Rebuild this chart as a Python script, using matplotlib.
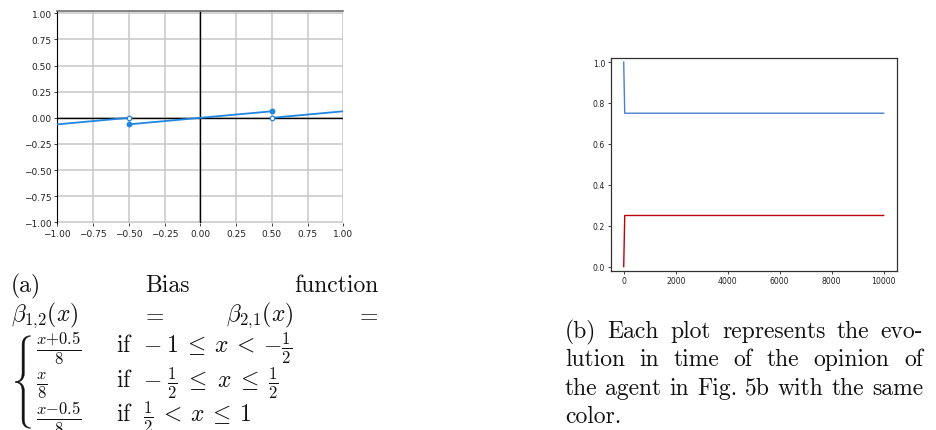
import numpy as np
import matplotlib.pyplot as plt
from matplotlib.patches import Polygon

W, H = 937, 431
plt.rcParams['mathtext.fontset'] = 'cm'

# ---------------------------------------------------------------------------
# data
# ---------------------------------------------------------------------------
# (a) piecewise bias function, one list per branch
seg_x = [[-1.0, -0.5], [-0.5, 0.5], [0.5, 1.0]]
seg_y = [[-0.0625, 0.0], [-0.0625, 0.0625], [0.0, 0.0625]]
closed_x = [-0.5, 0.5]
closed_y = [-0.0625, 0.0625]
open_x = [-0.5, 0.5]
open_y = [0.0, 0.0]
bias_ticks = [-1.0, -0.75, -0.5, -0.25, 0.0, 0.25, 0.5, 0.75, 1.0]

# (b) opinion evolution of the two agents
steps = [0, 40, 10000]
blue_op = [1.0, 0.75, 0.75]
red_op = [0.0, 0.25, 0.25]
step_ticks = [0, 2000, 4000, 6000, 8000, 10000]
op_ticks = [0.0, 0.2, 0.4, 0.6, 0.8, 1.0]

caption_a1 = ['(a)', 'Bias', 'function']
caption_a2 = [r'$\beta_{1{,}2}(x)$', r'$=$', r'$\beta_{2{,}1}(x)$', r'$=$']
case_frac = [r'$\frac{x{+}0.5}{8}$', r'$\frac{x}{8}$', r'$\frac{x{-}0.5}{8}$']
case_cond = [r'$\mathrm{if}\ \ {-}\:1 \:\leq\: x \:<\: {-}\frac{1}{2}$',
             r'$\mathrm{if}\ \ {-}\;\frac{1}{2} \;\leq\; x \;\leq\; \frac{1}{2}$',
             r'$\mathrm{if}\ \ \frac{1}{2} \:<\: x \:\leq\: 1$']
caption_b = ['(b) Each plot represents the evo-',
             'lution in time of the opinion of',
             'the agent in Fig. 5b with the same',
             'color.']

BLUE_A = '#1f86e2'
BLUE_B = '#4a7fd2'
RED_B = '#c00008'


def rect(x0, y0, x1, y1):
    """pixel box (top-left origin) -> figure fraction rect"""
    return [x0 / W, 1 - y1 / H, (x1 - x0) / W, (y1 - y0) / H]


def fxy(x, y):
    return x / W, 1 - y / H


fig = plt.figure(figsize=(W / 100, H / 100), dpi=100)

# ---------------------------------------------------------------------------
# (a) bias function
# ---------------------------------------------------------------------------
ax1 = fig.add_axes(rect(57.3, 12.3, 343.3, 224.3))
ax1.set_xlim(-1.0, 1.0)
ax1.set_ylim(-1.01, 1.02)
ax1.set_xticks(bias_ticks)
ax1.set_yticks(bias_ticks)
ax1.grid(True, color='#c8c8c8', lw=1.1)
ax1.axhline(0, color='k', lw=1.0, zorder=2)
ax1.axvline(0, color='k', lw=1.0, zorder=2)
for xs, ys in zip(seg_x, seg_y):
    ax1.plot(xs, ys, color=BLUE_A, lw=1.3, zorder=3)
ax1.plot(closed_x, closed_y, 'o', ms=3.2, color=BLUE_A, zorder=4)
ax1.plot(open_x, open_y, 'o', ms=3.2, mfc='white', mec=BLUE_A, mew=0.9, zorder=4)
ax1.tick_params(labelsize=6.5, length=2.5, width=0.6, pad=1.5, colors='#222222')
ax1.spines['left'].set_color('k')
ax1.spines['top'].set_color('#707070')
ax1.spines['top'].set_linewidth(1.2)
ax1.spines['bottom'].set_visible(False)
ax1.spines['right'].set_visible(False)

# ---------------------------------------------------------------------------
# (b) opinion evolution
# ---------------------------------------------------------------------------
ax2 = fig.add_axes(rect(610.7, 59.0, 896.7, 271.7))
ax2.plot(steps, blue_op, color=BLUE_B, lw=1.0)
ax2.plot(steps, red_op, color=RED_B, lw=1.0)
ax2.set_xlim(-500, 10500)
ax2.set_ylim(-0.02, 1.02)
ax2.set_xticks(step_ticks)
ax2.set_yticks(op_ticks)
ax2.tick_params(labelsize=5.6, length=2.5, width=0.6, pad=1.5, colors='#222222')
for sp in ax2.spines.values():
    sp.set_color('#333333')
    sp.set_linewidth(0.9)

# ---------------------------------------------------------------------------
# captions (justified like the LaTeX subcaptions)
# ---------------------------------------------------------------------------
renderer = fig.canvas.get_renderer()
CAP = dict(fontsize=17, family='cmr10', color='#111111')


def justify(words, x0, x1, y, last=False):
    texts = [fig.text(*fxy(x0, y), w, va='baseline', ha='left', **CAP) for w in words]
    widths = [t.get_window_extent(renderer).width for t in texts]
    if last or len(words) == 1:
        gap = 0.33 * 17 * 100 / 72
    else:
        gap = (x1 - x0 - sum(widths)) / (len(words) - 1)
    x = x0
    for t, w in zip(texts, widths):
        t.set_position(fxy(x, y))
        x += w + gap


justify(caption_a1, 11, 378.5, 292)
justify(caption_a2, 11, 378.5, 321)

for frac, cond, y in zip(case_frac, case_cond, [354, 389, 423]):
    fig.text(*fxy(36, y), frac, va='baseline', ha='left', **CAP)
    fig.text(*fxy(116, y), cond, va='baseline', ha='left', **CAP)


def qbez(p0, p1, p2, n=14):
    t = np.linspace(0, 1, n)[:, None]
    p0, p1, p2 = map(np.asarray, (p0, p1, p2))
    return (1 - t) ** 2 * p0 + 2 * (1 - t) * t * p1 + t ** 2 * p2


def half_brace(sign):
    # centre line of half a curly brace, from the curled end to the tip
    yc = 383.0
    pts = np.vstack([
        qbez((30.5, yc - sign * 46), (23.2, yc - sign * 45.5), (23.2, yc - sign * 37)),
        np.column_stack([np.full(10, 23.2), np.linspace(yc - sign * 36, yc - sign * 10, 10)]),
        qbez((23.2, yc - sign * 9), (23.2, yc - sign * 0.5), (15.5, yc)),
    ])
    d = np.gradient(pts, axis=0)
    d /= np.linalg.norm(d, axis=1)[:, None]
    nrm = np.column_stack([-d[:, 1], d[:, 0]])
    s = np.concatenate([[0], np.cumsum(np.linalg.norm(np.diff(pts, axis=0), axis=1))])
    s /= s[-1]
    th = np.interp(s, [0, 0.18, 0.8, 1.0], [0.5, 2.3, 2.3, 0.6]) / 2
    side1 = pts + nrm * th[:, None]
    side2 = pts - nrm * th[:, None]
    poly = np.vstack([side1, side2[::-1]])
    poly = np.column_stack([poly[:, 0] / W, 1 - poly[:, 1] / H])
    fig.patches.append(Polygon(poly, closed=True, fc='#111111', ec='#111111', lw=0.3,
                               transform=fig.transFigure, figure=fig))


half_brace(1)
half_brace(-1)

for i, line in enumerate(caption_b):
    justify(line.split(), 565, 923, 338 + 28.5 * i, last=(i == len(caption_b) - 1))

fig.savefig('out.png', dpi=100)
